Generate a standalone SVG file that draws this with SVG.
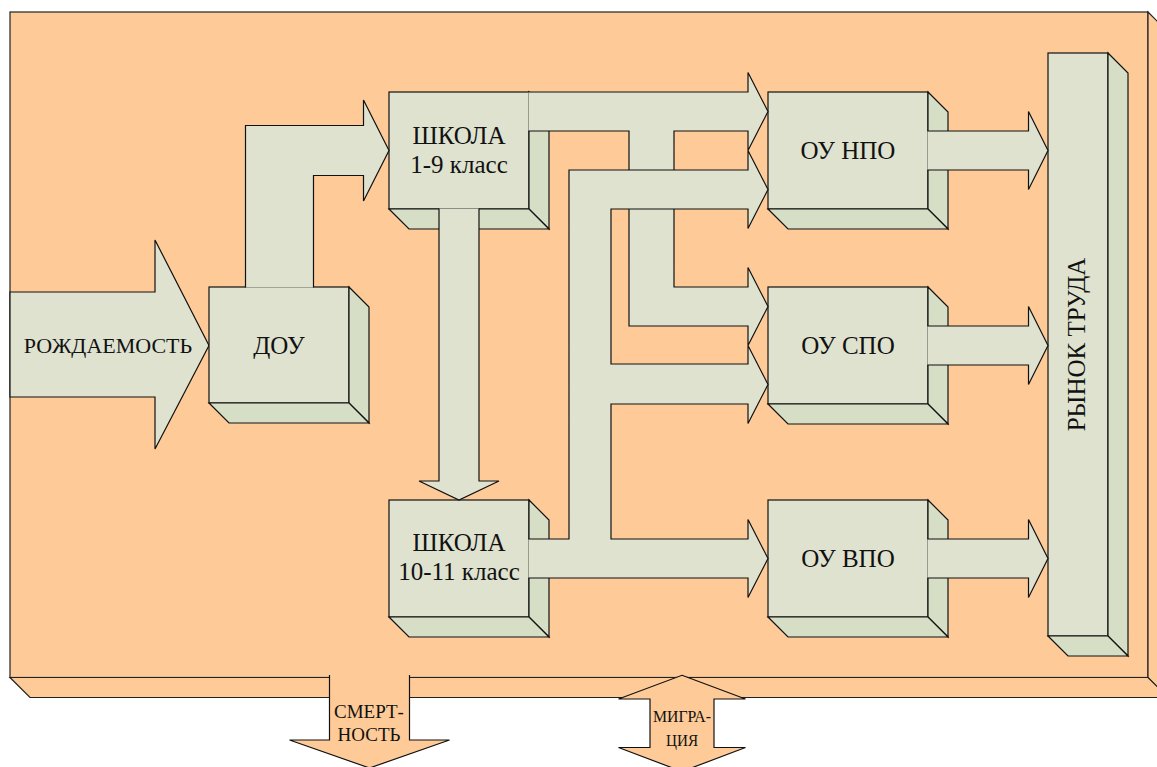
<svg xmlns="http://www.w3.org/2000/svg" width="1157" height="767" viewBox="0 0 1157 767">
<style>
  .bg{fill:#FECB98;stroke:#222;stroke-width:1.2;stroke-linejoin:miter}
  .front{fill:#DEE2CE;stroke:#111;stroke-width:1.2}
  .side{fill:#D6DEC6;stroke:#111;stroke-width:1.2;stroke-linejoin:miter}
  .conn{fill:#DEE2CE;stroke:#111;stroke-width:1.2;stroke-linejoin:miter}
  .flow{fill:#FECB98;stroke:#111;stroke-width:1.2;stroke-linejoin:miter}
</style>
<g id="panel">
  <rect class="bg" x="10" y="12" width="1138" height="665.5"/>
  <polygon class="bg" points="1148,12 1168,32 1168,697.5 1148,677.5"/>
  <polygon class="bg" points="10,677.5 1148,677.5 1168,697.5 30,697.5"/>
</g>
<g id="birth">
  <path class="conn" d="M10,292 H155 V240 L209,345.5 L155,449 V397 H10 Z"/>
  <text font-family="'Liberation Serif', 'Times New Roman', serif" font-size="22" text-anchor="middle" fill="#111" x="108" y="353">РОЖДАЕМОСТЬ</text>
</g>
<g id="dou">
  <rect class="front" x="209" y="287" width="140" height="116"/>
  <polygon class="side" points="349,287 369,307 369,423 349,403"/>
  <polygon class="side" points="209,403 349,403 369,423 229,423"/>
  <text font-family="'Liberation Serif', 'Times New Roman', serif" font-size="25" text-anchor="middle" fill="#111" x="279" y="354">ДОУ</text>
</g>
<g id="school19">
  <rect class="front" x="389" y="92" width="140" height="117"/>
  <polygon class="side" points="529,92 549,112 549,229 529,209"/>
  <polygon class="side" points="389,209 529,209 549,229 409,229"/>
  <text font-family="'Liberation Serif', 'Times New Roman', serif" font-size="25" text-anchor="middle" fill="#111" x="459" y="143.5">ШКОЛА</text>
  <text font-family="'Liberation Serif', 'Times New Roman', serif" font-size="25" text-anchor="middle" fill="#111" x="459" y="173">1-9 класс</text>
</g>
<g id="school1011">
  <rect class="front" x="389" y="500" width="140" height="117"/>
  <polygon class="side" points="529,500 549,520 549,637 529,617"/>
  <polygon class="side" points="389,617 529,617 549,637 409,637"/>
  <text font-family="'Liberation Serif', 'Times New Roman', serif" font-size="25" text-anchor="middle" fill="#111" x="459" y="551">ШКОЛА</text>
  <text font-family="'Liberation Serif', 'Times New Roman', serif" font-size="25" text-anchor="middle" fill="#111" x="459" y="580">10-11 класс</text>
</g>
<g id="npo">
  <rect class="front" x="768" y="92" width="160" height="117"/>
  <polygon class="side" points="928,92 948,112 948,229 928,209"/>
  <polygon class="side" points="768,209 928,209 948,229 788,229"/>
  <text font-family="'Liberation Serif', 'Times New Roman', serif" font-size="25" text-anchor="middle" fill="#111" x="848" y="159">ОУ НПО</text>
</g>
<g id="spo">
  <rect class="front" x="768" y="287" width="160" height="117"/>
  <polygon class="side" points="928,287 948,307 948,424 928,404"/>
  <polygon class="side" points="768,404 928,404 948,424 788,424"/>
  <text font-family="'Liberation Serif', 'Times New Roman', serif" font-size="25" text-anchor="middle" fill="#111" x="848" y="354">ОУ СПО</text>
</g>
<g id="vpo">
  <rect class="front" x="768" y="500" width="160" height="117"/>
  <polygon class="side" points="928,500 948,520 948,637 928,617"/>
  <polygon class="side" points="768,617 928,617 948,637 788,637"/>
  <text font-family="'Liberation Serif', 'Times New Roman', serif" font-size="25" text-anchor="middle" fill="#111" x="848" y="567">ОУ ВПО</text>
</g>
<g id="labour">
  <rect class="front" x="1048" y="53" width="60" height="583"/>
  <polygon class="side" points="1108,53 1128,73 1128,656 1108,636"/>
  <polygon class="side" points="1048,636 1108,636 1128,656 1068,656"/>
  <text font-family="'Liberation Serif', 'Times New Roman', serif" font-size="25" text-anchor="middle" fill="#111" transform="translate(1085,344.5) rotate(-90)">РЫНОК ТРУДА</text>
</g>
<g id="connectors">
  <path class="conn" d="M245.5,287.6 V125.5 H363.5 V100 L389,150.5 L363.5,201 V175.5 H313.5 V287.6"/>
  <path class="conn" d="M439,208.4 V481 H419 L459,500 L499,481 H479 V208.4"/>
  <path class="conn" d="M528.4,92 H748 V72.5 L768,111.5 L748,150.5 V131 H674 V287 H748 V267.5 L768,306.5 L748,345.5 V326 H629 V131 H528.4"/>
  <path class="conn" d="M528.4,539 H569 V170 H748 V150.5 L768,189.5 L748,228.5 V209 H611 V364 H748 V345.5 L768,384.5 L748,423.5 V404 H611 V539 H748 V519.5 L768,558.5 L748,597.5 V578 H528.4"/>
  <path class="conn" d="M927.4,131 H1028.5 V111.5 L1048,150.5 L1028.5,189.5 V170 H927.4"/>
  <path class="conn" d="M927.4,326 H1028.5 V306.5 L1048,345.5 L1028.5,384.5 V365 H927.4"/>
  <path class="conn" d="M927.4,539 H1028.5 V519.5 L1048,558.5 L1028.5,597.5 V578 H927.4"/>
</g>
<g id="death">
  <path class="flow" d="M329.5,675 V740 H289.5 L369.5,768 L449.5,740 H409.5 V675"/>
  <text font-family="'Liberation Serif', 'Times New Roman', serif" font-size="19" text-anchor="middle" fill="#111" x="369" y="718">СМЕРТ-</text>
  <text font-family="'Liberation Serif', 'Times New Roman', serif" font-size="19" text-anchor="middle" fill="#111" x="369" y="741">НОСТЬ</text>
</g>
<g id="migration">
  <path class="flow" d="M682,675.3 L745.5,699 H714 V747.5 H745.5 L682,771.5 L618.5,747.5 H650 V699 H618.5 Z"/>
  <text font-family="'Liberation Serif', 'Times New Roman', serif" font-size="17.5" text-anchor="middle" fill="#111" x="682" y="722" textLength="58" lengthAdjust="spacingAndGlyphs">МИГРА-</text>
  <text font-family="'Liberation Serif', 'Times New Roman', serif" font-size="17.5" text-anchor="middle" fill="#111" x="682" y="746" textLength="32" lengthAdjust="spacingAndGlyphs">ЦИЯ</text>
</g>
</svg>
